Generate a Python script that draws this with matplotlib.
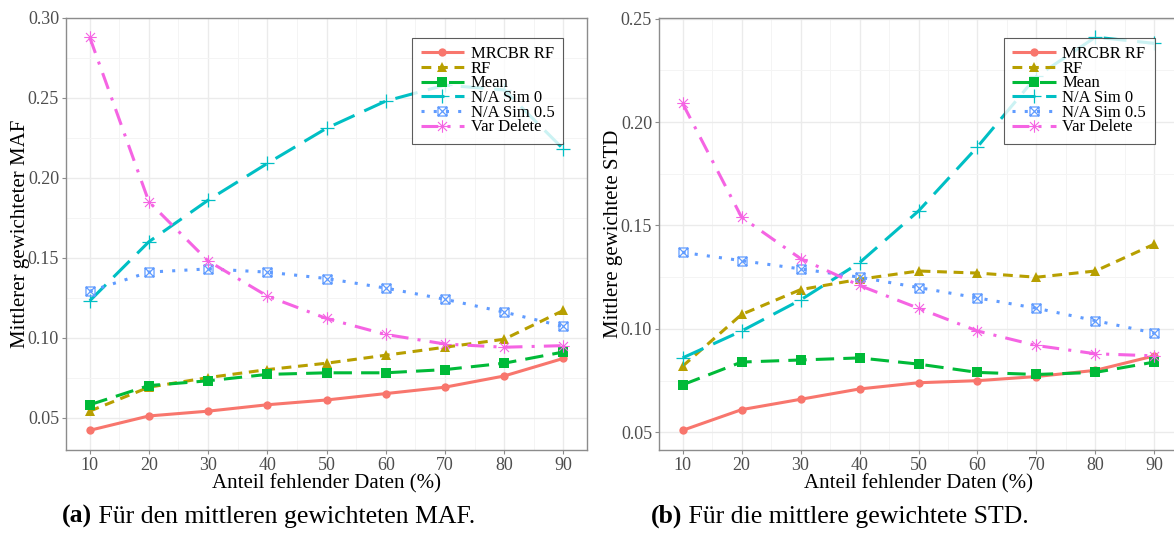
import matplotlib
matplotlib.use("Agg")
import matplotlib.pyplot as plt
import numpy as np
from matplotlib.path import Path
from matplotlib.ticker import MultipleLocator

# ---------------- data ----------------
missing_pct = [10, 20, 30, 40, 50, 60, 70, 80, 90]
series_names = ["MRCBR RF", "RF", "Mean", "N/A Sim 0", "N/A Sim 0.5", "Var Delete"]

maf_mrcbr = [0.042, 0.051, 0.054, 0.058, 0.061, 0.065, 0.069, 0.076, 0.087]
maf_rf = [0.054, 0.069, 0.075, 0.080, 0.084, 0.089, 0.094, 0.099, 0.117]
maf_mean = [0.058, 0.070, 0.073, 0.077, 0.078, 0.078, 0.080, 0.084, 0.091]
maf_sim0 = [0.123, 0.160, 0.186, 0.209, 0.231, 0.248, 0.258, 0.255, 0.218]
maf_sim05 = [0.129, 0.141, 0.143, 0.141, 0.137, 0.131, 0.124, 0.116, 0.107]
maf_vardel = [0.288, 0.185, 0.148, 0.126, 0.112, 0.102, 0.096, 0.094, 0.095]

std_mrcbr = [0.051, 0.061, 0.066, 0.071, 0.074, 0.075, 0.077, 0.080, 0.087]
std_rf = [0.082, 0.107, 0.119, 0.124, 0.128, 0.127, 0.125, 0.128, 0.141]
std_mean = [0.073, 0.084, 0.085, 0.086, 0.083, 0.079, 0.078, 0.079, 0.084]
std_sim0 = [0.086, 0.099, 0.114, 0.132, 0.157, 0.188, 0.222, 0.241, 0.238]
std_sim05 = [0.137, 0.133, 0.129, 0.125, 0.120, 0.115, 0.110, 0.104, 0.098]
std_vardel = [0.209, 0.154, 0.134, 0.121, 0.110, 0.099, 0.092, 0.088, 0.087]

x_ticks = [10, 20, 30, 40, 50, 60, 70, 80, 90]
x_label = "Anteil fehlender Daten (%)"
y_labels = ["Mittlerer gewichteter MAF", "Mittlere gewichtete STD"]
captions = [("(a)", " Für den mittleren gewichteten MAF."),
            ("(b)", " Für die mittlere gewichtete STD.")]

# ---------------- style ----------------
plt.rcParams["font.family"] = ["Liberation Serif", "DejaVu Serif"]

colors = ["#F8766D", "#B79F00", "#00BA38", "#00BFC4", "#619CFF", "#F564E3"]

boxcross = Path(
    [(-1, -1), (1, -1), (1, 1), (-1, 1), (-1, -1),
     (-1, -1), (1, 1), (-1, 1), (1, -1)],
    [Path.MOVETO, Path.LINETO, Path.LINETO, Path.LINETO, Path.CLOSEPOLY,
     Path.MOVETO, Path.LINETO, Path.MOVETO, Path.LINETO])
asterisk = Path(
    [(-1, 0), (1, 0), (0, -1), (0, 1), (-0.72, -0.72), (0.72, 0.72),
     (-0.72, 0.72), (0.72, -0.72)],
    [Path.MOVETO, Path.LINETO, Path.MOVETO, Path.LINETO,
     Path.MOVETO, Path.LINETO, Path.MOVETO, Path.LINETO])

styles = [
    dict(ls="-", marker="o", ms=6, mfc=None, mew=0),
    dict(ls=(0, (3.2, 2.2)), marker="^", ms=7, mfc=None, mew=0),
    dict(ls=(0, (6, 3)), marker="s", ms=6.5, mfc=None, mew=0),
    dict(ls=(0, (7.5, 3.5)), marker="+", ms=10, mfc=None, mew=0.9),
    dict(ls=(0, (1, 3)), marker=boxcross, ms=6.5, mfc="none", mew=0.9),
    dict(ls=(0, (5.5, 3, 1, 3)), marker=asterisk, ms=9, mfc=None, mew=0.8),
]

W, H = 1174, 536
fig = plt.figure(figsize=(W / 100, H / 100), dpi=100)

axes_px = [(66, 587), (659, 1178)]
top_px, bot_px = 17.5, 450
datasets = [
    [maf_mrcbr, maf_rf, maf_mean, maf_sim0, maf_sim05, maf_vardel],
    [std_mrcbr, std_rf, std_mean, std_sim0, std_sim05, std_vardel],
]

for k in range(2):
    x0, x1 = axes_px[k]
    ax = fig.add_axes([x0 / W, (H - bot_px) / H, (x1 - x0) / W, (bot_px - top_px) / H])
    data = datasets[k]
    for i, (name, ys) in enumerate(zip(series_names, data)):
        st = styles[i]
        kw = dict(color=colors[i], lw=2.2, ls=st["ls"], marker=st["marker"],
                  markersize=st["ms"], markeredgewidth=st["mew"],
                  markeredgecolor=colors[i], label=name, dash_capstyle="butt",
                  solid_capstyle="butt", zorder=3)
        if st["mfc"] is not None:
            kw["markerfacecolor"] = st["mfc"]
        ax.plot(missing_pct, ys, **kw)

    allv = np.concatenate([np.asarray(d) for d in data])
    lo, hi = allv.min(), allv.max()
    pad = 0.05 * (hi - lo)
    ax.set_ylim(lo - pad, hi + pad)
    ax.set_xlim(6, 94)
    ax.set_xticks(x_ticks)
    ax.xaxis.set_minor_locator(MultipleLocator(5))
    ax.yaxis.set_major_locator(MultipleLocator(0.05))
    ax.yaxis.set_minor_locator(MultipleLocator(0.025))
    ax.set_yticklabels([f"{t:.2f}" for t in ax.get_yticks()])
    ax.grid(True, which="major", color="#EBEBEB", lw=1.0, zorder=0)
    ax.grid(True, which="minor", color="#F4F4F4", lw=0.7, zorder=0)
    ax.set_axisbelow(True)
    for sp in ax.spines.values():
        sp.set_color("#8C8C8C")
        sp.set_linewidth(1.0)
    ax.tick_params(which="major", length=3, width=0.8, color="#8C8C8C",
                   labelsize=13, labelcolor="#4D4D4D", pad=2)
    ax.tick_params(which="minor", length=0)
    ax.set_xlabel(x_label, fontsize=15, labelpad=0)
    ax.set_ylabel(y_labels[k], fontsize=15, labelpad=-2)

    leg = ax.legend(loc="upper left", bbox_to_anchor=(0.665, 0.953),
                    fontsize=12, frameon=True, fancybox=False,
                    handlelength=2.6, handletextpad=0.4, labelspacing=-0.08,
                    borderpad=0.5, borderaxespad=0)
    leg.get_frame().set_edgecolor("#333333")
    leg.get_frame().set_linewidth(0.8)
    leg.set_zorder(5)

# captions
cap_x = [62, 651]
cap_y = (H - 523) / H
fig.canvas.draw()
renderer = fig.canvas.get_renderer()
for k in range(2):
    t1 = fig.text(cap_x[k] / W, cap_y, captions[k][0], fontsize=18.5,
                  fontweight="bold", ha="left", va="baseline")
    bb = t1.get_window_extent(renderer)
    fig.text(bb.x1 / W, cap_y, captions[k][1], fontsize=18.5,
             ha="left", va="baseline")

fig.savefig("out.png", dpi=100)
